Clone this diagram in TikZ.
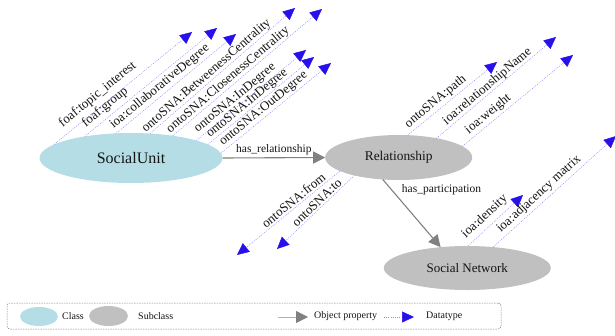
\documentclass[tikz,border=0pt]{standalone}
\usepackage{fontspec}
\setmainfont{Liberation Serif}
\usetikzlibrary{arrows.meta,shapes.geometric}
\definecolor{suFill}{RGB}{181,221,230}
\definecolor{subFill}{RGB}{192,192,192}
\definecolor{objGray}{RGB}{128,128,128}
\definecolor{dtBlue}{RGB}{40,16,235}
\definecolor{dtLine}{RGB}{140,140,255}
\definecolor{txt}{RGB}{20,20,20}
\begin{document}
\begin{tikzpicture}[x=1pt,y=-1pt,
  every node/.style={text=txt},
  cls/.style={ellipse, draw=none, fill=suFill, inner sep=0pt, outer sep=0pt},
  sub/.style={ellipse, draw=none, fill=subFill, inner sep=0pt, outer sep=0pt},
  obj/.style={draw=objGray, line width=1.1pt, -{Triangle[length=12pt,width=12pt]}},
  dt/.style={draw=dtLine, line width=0.5pt, dash pattern=on 1pt off 1.2pt, -{Triangle[length=12pt,width=11pt,color=dtBlue]}},
  dlab/.style={sloped, font=\fontsize{13}{15}\selectfont, inner sep=0pt},
  olab/.style={font=\fontsize{11.5}{13}\selectfont, inner sep=0pt},
  lgd/.style={font=\fontsize{10}{12}\selectfont, inner sep=0pt, anchor=west}
]
\useasboundingbox (0,0) rectangle (615,335);

% classes
\node[cls, minimum width=183pt, minimum height=50pt, font=\fontsize{16}{18}\selectfont] (SU) at (131,158) {SocialUnit};
\node[sub, minimum width=147pt, minimum height=45pt, font=\fontsize{13.4}{15}\selectfont] (Rel) at (398.7,157.5) {Relationship};
\node[sub, minimum width=167pt, minimum height=44pt, font=\fontsize{13}{15}\selectfont] (SN) at (467.3,268) {Social Network};

% datatype tips
\coordinate (t1) at (192,32);
\coordinate (t2) at (217,28);
\coordinate (t3) at (236,34);
\coordinate (t4) at (295,8);
\coordinate (t5) at (322,9);
\coordinate (t6) at (306,50);
\coordinate (t7) at (314,57);
\coordinate (t8) at (331,63);
\coordinate (tp) at (497,62);
\coordinate (tr) at (556,37);
\coordinate (tw) at (573,55);
\coordinate (tf) at (237,255);
\coordinate (tt) at (277,249);
\coordinate (td) at (523,195);
\coordinate (ta) at (616,136);

% SocialUnit datatypes
\draw[dt] (SU.170.1) -- node[dlab, pos=.367, above=5pt] {foaf:topic\_interest} (t1);
\draw[dt] (SU.155.6) -- node[dlab, pos=.20, above=3.4pt] {foaf:group} (t2);
\draw[dt] (SU.121.3) -- node[dlab, pos=.407, above=2pt] {ioa:collaborativeDegree} (t3);
\draw[dt] (SU.52.2) -- node[dlab, pos=.42, above=0.5pt] {ontoSNA:BetweenessCentrality} (t4);
\draw[dt] (SU.28.6) -- node[dlab, pos=.40, above=0.5pt] {ontoSNA:ClosenessCentrality} (t5);
\draw[dt] (SU.15.5) -- node[dlab, pos=.40, above=2pt] {ontoSNA:InDegree} (t6);
\draw[dt] (SU.10.3) -- node[dlab, pos=.41, above=0.5pt] {ontoSNA:InDegree} (t7);
\draw[dt] (SU.3.1) -- node[dlab, pos=.43, above=1.3pt] {ontoSNA:OutDegree} (t8);

% Relationship datatypes
\draw[dt] (Rel.68.8) -- node[dlab, pos=.37, above=2pt] {ontoSNA:path} (tp);
\draw[dt] (Rel.27) -- node[dlab, pos=.46, above=0.5pt] {ioa:relationshipName} (tr);
\draw[dt] (Rel.10.4) -- node[dlab, pos=.28, above=2pt] {ioa:weight} (tw);
\draw[dt] (Rel.193) -- node[dlab, pos=.41, above=2pt] {ontoSNA:from} (tf);
\draw[dt] (Rel.202.9) -- node[dlab, pos=.43, above=1.5pt] {ontoSNA:to} (tt);

% Social Network datatypes
\draw[dt] (SN.88.2) -- node[dlab, pos=.43, above=4pt] {ioa:density} (td);
\draw[dt] (SN.39.1) -- node[dlab, pos=.42, above=2.4pt] {ioa:adjacency matrix} (ta);

% object properties
\draw[obj] (SU.east) -- node[olab, midway, above=2pt] {has\_relationship} (Rel.west);
\draw[obj] (Rel.234) -- node[olab, pos=.15, right=10pt] {has\_participation} (SN.142);

% legend
\node[draw=objGray, dash pattern=on 1.5pt off 1pt, line width=0.5pt, rounded corners=3pt,
      minimum width=494pt, minimum height=26pt, inner sep=0pt] (legend) at (254,316) {};
\node[cls, minimum width=38pt, minimum height=19pt] (lc) at (39,316.5) {};
\node[lgd] (lct) at (62,316) {Class};
\node[sub, minimum width=39pt, minimum height=20pt] (ls) at (108.5,316) {};
\node[lgd] (lst) at (138,316) {Subclass};
\coordinate (lo1) at (278,317);
\coordinate (lo2) at (308,317);
\draw[obj, draw=objGray!60, line width=0.8pt, -{Triangle[length=12pt,width=12pt,color=objGray]}] (lo1) -- (lo2);
\node[lgd] (lot) at (314,316) {Object property};
\coordinate (ld1) at (384,317);
\coordinate (ld2) at (414,317);
\draw[dt] (ld1) -- (ld2);
\node[lgd] (ldt) at (426,316) {Datatype};
\end{tikzpicture}
\end{document}
